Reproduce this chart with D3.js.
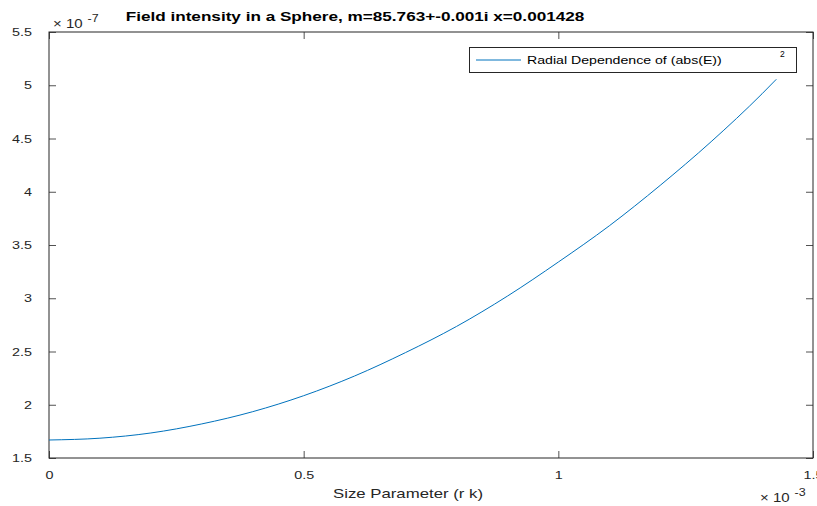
<!DOCTYPE html>
<html>
<head>
<meta charset="utf-8">
<script src="https://cdn.jsdelivr.net/npm/d3@7"></script>
<style>
  body { margin: 0; background: #fff; }
  text { font-family: "Liberation Sans", Arial, Helvetica, sans-serif; fill: #262626; }
</style>
</head>
<body>
<div id="chart"></div>
<script>
// size parameter (x 1e-3) and field intensity (x 1e-7)
const sizeParam = [0, 0.1, 0.2, 0.3, 0.4, 0.5, 0.6, 0.7, 0.8, 0.9, 1.0, 1.1, 1.2, 1.3, 1.4, 1.428];
const intensity = [1.669, 1.686, 1.735, 1.82, 1.935, 2.085, 2.27, 2.49, 2.735, 3.02, 3.34, 3.68, 4.06, 4.47, 4.92, 5.056];
const xTicks = [0, 0.5, 1, 1.5];
const yTicks = [1.5, 2, 2.5, 3, 3.5, 4, 4.5, 5, 5.5];

const width = 817;
const height = 506;
const margin = { top: 32, right: 4, bottom: 48, left: 49 };

// the reference text looks stretched sideways
const stretch = 1.25;

const svg = d3.select('#chart')
  .append('svg')
  .attr('width', width)
  .attr('height', height);

const x = d3.scaleLinear().domain([0, 1.5]).range([margin.left, width - margin.right]);
const y = d3.scaleLinear().domain([1.5, 5.5]).range([height - margin.bottom, margin.top]);

const axisColor = '#262626';
const tickLen = 7;

// widen a text sideways while keeping its anchor point
function widen(sel, s) {
  sel.each(function() {
    const t = d3.select(this);
    const x0 = +t.attr('x') || 0;
    t.attr('x', x0 / s).attr('transform', `scale(${s},1)`);
  });
}

// bottom axis, ticks pointing inward
const xAxis = svg.append('g')
  .attr('transform', `translate(0,${y(1.5)})`)
  .call(d3.axisBottom(x).tickValues(xTicks).tickSizeInner(-tickLen).tickSizeOuter(0)
    .tickPadding(13).tickFormat(d3.format('')));
xAxis.select('.domain').remove();

// left axis
const yAxis = svg.append('g')
  .attr('transform', `translate(${x(0)},0)`)
  .call(d3.axisLeft(y).tickValues(yTicks).tickSizeInner(-tickLen).tickSizeOuter(0)
    .tickPadding(17).tickFormat(d3.format('')));
yAxis.select('.domain').remove();

// top and right ticks (box)
svg.append('g')
  .attr('transform', `translate(0,${y(5.5)})`)
  .call(d3.axisTop(x).tickValues(xTicks).tickSizeInner(-tickLen).tickSizeOuter(0).tickFormat(''))
  .select('.domain').remove();
svg.append('g')
  .attr('transform', `translate(${x(1.5)},0)`)
  .call(d3.axisRight(y).tickValues(yTicks).tickSizeInner(-tickLen).tickSizeOuter(0).tickFormat(''))
  .select('.domain').remove();

svg.selectAll('.tick line').attr('stroke', axisColor).attr('stroke-width', 0.8);
svg.selectAll('.tick text')
  .attr('font-size', 11.5)
  .style('fill', axisColor);
widen(xAxis.selectAll('.tick text'), stretch);
widen(yAxis.selectAll('.tick text'), stretch);

// axes box
svg.append('rect')
  .attr('x', x(0))
  .attr('y', y(5.5))
  .attr('width', x(1.5) - x(0))
  .attr('height', y(1.5) - y(5.5))
  .attr('fill', 'none')
  .attr('stroke', axisColor)
  .attr('stroke-width', 1);

// the curve
const line = d3.line()
  .x((d, i) => x(sizeParam[i]))
  .y(d => y(d))
  .curve(d3.curveMonotoneX);

svg.append('path')
  .datum(intensity)
  .attr('d', line)
  .attr('fill', 'none')
  .attr('stroke', '#0072BD')
  .attr('stroke-width', 1);

// exponent labels
const yExp = svg.append('text').attr('x', 53).attr('y', 28).attr('font-size', 12);
yExp.append('tspan').text('\u00d7 10');
yExp.append('tspan').attr('dx', 4).attr('dy', -6).attr('font-size', 10).text('-7');
widen(yExp, stretch);

const xExp = svg.append('text').attr('x', 760).attr('y', 502).attr('font-size', 12);
xExp.append('tspan').text('\u00d7 10');
xExp.append('tspan').attr('dx', 4).attr('dy', -6).attr('font-size', 10).text('-3');
widen(xExp, stretch);

// title
const title = svg.append('text')
  .attr('x', 355)
  .attr('y', 21)
  .attr('text-anchor', 'middle')
  .attr('font-size', 13.5)
  .attr('font-weight', 'bold')
  .style('fill', '#000')
  .text('Field intensity in a Sphere, m=85.763+-0.001i x=0.001428');
widen(title, 1.27);

// x label
const xLabel = svg.append('text')
  .attr('x', 408)
  .attr('y', 498)
  .attr('text-anchor', 'middle')
  .attr('font-size', 13)
  .text('Size Parameter (r k)');
widen(xLabel, 1.29);

// legend
const legend = svg.append('g');
legend.append('rect')
  .attr('x', 469.5).attr('y', 47.5)
  .attr('width', 327).attr('height', 25)
  .attr('fill', '#fff')
  .attr('stroke', axisColor)
  .attr('stroke-width', 1);
legend.append('line')
  .attr('x1', 476).attr('x2', 521)
  .attr('y1', 60).attr('y2', 60)
  .attr('stroke', '#0072BD')
  .attr('stroke-width', 1);
const legText = legend.append('text')
  .attr('x', 527).attr('y', 64)
  .attr('font-size', 11.5)
  .style('fill', '#000')
  .text('Radial Dependence of (abs(E))');
widen(legText, 1.23);
legend.append('text')
  .attr('x', 780).attr('y', 57)
  .attr('font-size', 8.5)
  .style('fill', '#000')
  .text('2');
</script>
</body>
</html>
